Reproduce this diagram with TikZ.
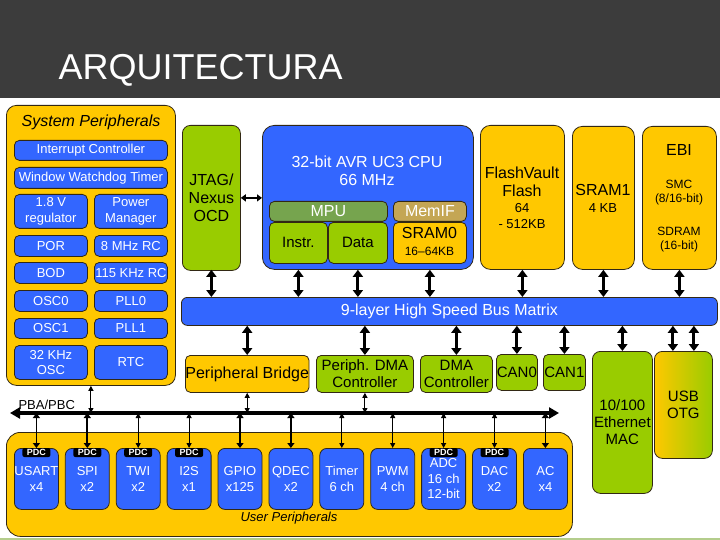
\documentclass[tikz,border=0pt]{standalone}
\usepackage{fontspec}
\setmainfont{Liberation Sans}
\usepackage{tikz}
\usetikzlibrary{arrows.meta}

\definecolor{ylw}{RGB}{255,200,0}
\definecolor{blu}{RGB}{51,102,255}
\definecolor{grn}{RGB}{153,204,0}
\definecolor{mpugrn}{RGB}{118,164,78}
\definecolor{memtan}{RGB}{196,166,84}
\definecolor{edge}{RGB}{50,40,20}
\definecolor{slate}{RGB}{60,60,60}
\definecolor{rule}{RGB}{180,205,140}

\begin{document}
\begin{tikzpicture}[x=1pt, y=-1pt,
    box/.style={draw=edge, line width=.8pt, rounded corners=5pt, inner sep=0pt,
                align=center, anchor=north west},
    bbox/.style={box, fill=blu, text=white},
    ybox/.style={box, fill=ylw},
    gbox/.style={box, fill=grn},
    f12/.style={font=\fontsize{12}{14}\selectfont},
    f13/.style={font=\fontsize{13}{15.5}\selectfont},
    f15/.style={font=\fontsize{15}{17}\selectfont},
    f16/.style={font=\fontsize{16}{18}\selectfont},
    fatarr/.style={{Triangle[length=7pt,width=10pt]}-{Triangle[length=7pt,width=10pt]}, line width=3pt},
    midarr/.style={{Triangle[length=5pt,width=7pt]}-{Triangle[length=5pt,width=7pt]}, line width=1.8pt},
    slimarr/.style={{Triangle[length=5pt,width=5pt]}-{Triangle[length=5pt,width=5pt]}, line width=1.1pt}]
  \useasboundingbox (0,0) rectangle (720,540);

  % title bar
  \fill[slate] (0,0) rectangle (720,98);
  \node[anchor=base west, text=white, font=\fontsize{36}{40}\selectfont] (title) at (55,80) {ARQUITECTURA};
  \draw[rule, line width=2pt] (0,539) -- (720,539);

  % system peripherals
  \node[ybox, rounded corners=10pt, minimum width=169pt, minimum height=280pt] (sys) at (6,105) {};
  \node[font=\fontsize{16}{18}\selectfont\itshape] (systitle) at (91,122) {System Peripherals};
  \node[bbox, f13, minimum width=153pt, minimum height=20pt] (irq) at (14,140) {Interrupt Controller};
  \node[bbox, f13, minimum width=153pt, minimum height=21pt] (wdt) at (14,167) {Window Watchdog Timer};
  \foreach \n/\txt/\y/\h in {reg/{1.8 V\\regulator}/194/34pt, por/POR/235/21pt, bod/BOD/262/21pt,
                             osc0/OSC0/290/21pt, osc1/OSC1/318/20pt, osck/{32 KHz\\OSC}/345/34pt}
    \node[bbox, f13, minimum width=73pt, minimum height=\h] (\n) at (14,\y) {\txt};
  \foreach \n/\txt/\y/\h in {pm/{Power\\Manager}/194/34pt, rc8/8 MHz RC/235/21pt, rc115/115 KHz RC/262/21pt,
                             pll0/PLL0/290/21pt, pll1/PLL1/318/20pt, rtc/RTC/345/34pt}
    \node[bbox, f13, minimum width=73pt, minimum height=\h] (\n) at (94,\y) {\txt};

  % cpu and memories
  \node[gbox, f16, rounded corners=8pt, minimum width=58pt, minimum height=145pt] (jtag) at (182,125) {JTAG/\\Nexus\\OCD};
  \node[bbox, rounded corners=12pt, minimum width=211pt, minimum height=144pt] (cpu) at (262,125) {};
  \node[f16, text=white, align=center] (cputitle) at (367,171) {32-bit AVR UC3 CPU\\66 MHz};
  \node[box, f16, fill=mpugrn, text=white, minimum width=118pt, minimum height=20pt] (mpu) at (269,201) {MPU};
  \node[gbox, f15, minimum width=58pt, minimum height=41pt] (instr) at (269,222) {Instr.};
  \node[gbox, f15, minimum width=59pt, minimum height=41pt] (data) at (328,222) {Data};
  \node[box, f16, fill=memtan, text=white, minimum width=73pt, minimum height=20pt] (memif) at (393,201) {MemIF};
  \node[ybox, minimum width=73pt, minimum height=41pt] (sram0) at (393,222) {};
  \node[f16] (sram0a) at (429.5,233) {SRAM0};
  \node[f12] (sram0b) at (429.5,251) {16–64KB};

  \node[ybox, rounded corners=10pt, minimum width=84pt, minimum height=144pt] (flash) at (480,125) {};
  \node[f16, align=center] (flasha) at (522,182) {FlashVault\\Flash};
  \node[f13, align=center] (flashb) at (522,216) {64\\- 512KB};
  \node[ybox, rounded corners=10pt, minimum width=62pt, minimum height=143pt] (sram1) at (572,126) {};
  \node[f16] (sram1a) at (603,190) {SRAM1};
  \node[f13] (sram1b) at (603,208) {4 KB};
  \node[ybox, rounded corners=10pt, minimum width=74pt, minimum height=143pt] (ebi) at (642,126) {};
  \node[f16] (ebia) at (679,150) {EBI};
  \node[f12, align=center] (ebib) at (679,193) {SMC\\(8/16-bit)};
  \node[f12, align=center] (ebic) at (679,240) {SDRAM\\(16-bit)};

  % bus matrix
  \node[bbox, f16, rounded corners=6pt, minimum width=536pt, minimum height=28pt] (bus) at (181,297) {9-layer High Speed Bus Matrix};

  \node[ybox, f16, minimum width=123pt, minimum height=37pt] (bridge) at (185,355) {Peripheral Bridge};
  \node[gbox, f15, minimum width=97pt, minimum height=37pt] (pdma) at (316,355) {Periph. DMA\\Controller};
  \node[gbox, f15, minimum width=72pt, minimum height=37pt] (dma) at (420,355) {DMA\\Controller};
  \node[gbox, f15, minimum width=41pt, minimum height=36pt] (can0) at (496,354) {CAN0};
  \node[gbox, f15, minimum width=42pt, minimum height=36pt] (can1) at (543,354) {CAN1};
  \node[gbox, f15, rounded corners=8pt, minimum width=60pt, minimum height=142pt] (eth) at (592,351) {10/100\\Ethernet\\MAC};
  \node[box, f15, rounded corners=8pt, left color=ylw, right color=grn, minimum width=58pt, minimum height=107pt] (usb) at (654,351) {USB\\OTG};

  \foreach \n in {jtag,instr,data,sram0,flash,sram1,ebi}
    \draw[fatarr] (\n |- cpu.south) -- (\n |- bus.north);
  \foreach \n in {bridge,pdma,dma,can0,can1,eth}
    \draw[fatarr] (\n.north |- bus.south) -- (\n.north);
  \coordinate (usba) at ([xshift=-10.5pt]usb.north);
  \coordinate (usbb) at ([xshift=10.5pt]usb.north);
  \foreach \n in {usba,usbb}
    \draw[fatarr] (\n |- bus.south) -- (\n);
  \draw[midarr] (jtag.east) -- (jtag.east -| cpu.west);

  % peripheral bus
  \coordinate (pbal) at (10,413);
  \coordinate (pbar) at (559,413);
  \draw[line width=3.5pt, {Triangle[length=10pt,width=11pt]}-{Triangle[length=10pt,width=11pt]}] (pbal) -- (pbar);
  \node[f13, anchor=base west] (pbalbl) at (15,409) {PBA/PBC};
  \foreach \n in {sys,bridge,pdma}
    \draw[slimarr] (\n.south) -- (\n.south |- pbal);

  % user peripherals
  \node[ybox, rounded corners=14pt, minimum width=566pt, minimum height=104pt] (user) at (6,432) {};
  \node[font=\fontsize{13}{15}\selectfont\itshape] (userlbl) at (289,518) {User Peripherals};
  \foreach \n/\a/\b [count=\i from 0] in {usart/USART/x4, spi/SPI/x2, twi/TWI/x2, iis/I2S/x1,
      gpio/GPIO/x125, qdec/QDEC/x2, timer/Timer/6 ch, pwm/PWM/4 ch, adc/ADC/{16 ch\\12-bit},
      dac/DAC/x2, ac/AC/x4}
    \node[bbox, f13, rounded corners=7pt, minimum width=44pt, minimum height=61pt] (\n) at ({14+50.9*\i},448) {\a\\\b};
  \foreach \n in {usart,spi,twi,iis,adc,dac}
    \node[fill=black, text=white, rounded corners=2pt, minimum width=28pt, minimum height=9pt, inner sep=0pt,
          font=\fontsize{9}{9}\selectfont\bfseries] (\n-pdc) at ([yshift=-4.5pt]\n.north) {PDC};
  \foreach \n in {usart,spi,gpio,qdec,ac}
    \draw[midarr] (\n.north) -- (\n.north |- pbal);
  \foreach \n in {twi,iis,timer,pwm,adc,dac}
    \draw[slimarr] (\n.north) -- (\n.north |- pbal);
\end{tikzpicture}
\end{document}
